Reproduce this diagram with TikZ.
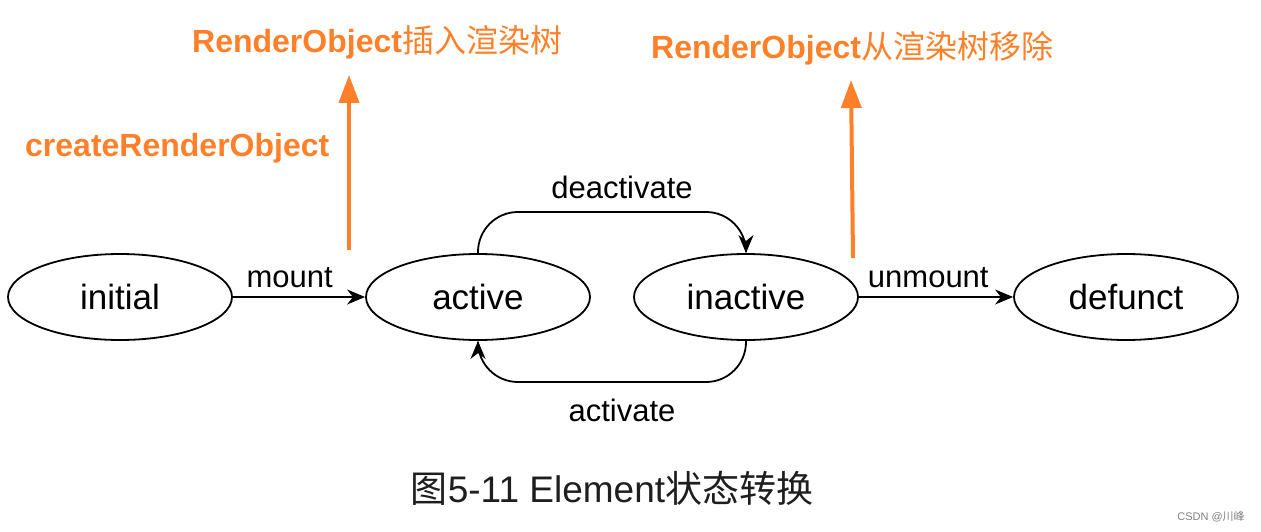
\documentclass[tikz,border=0pt]{standalone}
\usepackage{fontspec}
\setmainfont{Liberation Sans}
\newfontfamily\cjk{Noto Sans CJK SC}
\usetikzlibrary{arrows.meta,shapes.geometric}
\definecolor{orng}{RGB}{255,128,40}
\definecolor{capt}{RGB}{30,30,30}
\tikzset{
  state/.style={draw=black,line width=1.8pt,ellipse,minimum width=224pt,minimum height=86pt,inner sep=0pt,font=\fontsize{35}{40}\selectfont},
  conn/.style={draw=black,line width=1.8pt,-{Stealth[length=18pt,width=15pt]}},
  lbl/.style={font=\fontsize{31}{35}\selectfont,inner sep=0pt},
  orarrow/.style={draw=orng,line width=4pt,-{Triangle[length=28pt,width=20pt]}},
  ortext/.style={text=orng,inner sep=0pt,anchor=west,font=\fontsize{32}{36}\selectfont}
}
\begin{document}
\begin{tikzpicture}[x=1pt,y=-1pt]
\useasboundingbox (0,0) rectangle (1261,532);
\node[state] (initial) at (120,297) {initial};
\node[state] (active) at (478,297) {active};
\node[state] (inactive) at (746,297) {inactive};
\node[state] (defunct) at (1126,297) {defunct};

\draw[conn] (initial) -- node[lbl,pos=0.43,above=8pt] {mount} (active);
\draw[conn] (inactive) -- node[lbl,pos=0.45,above=8pt] {unmount} (defunct);

\draw[conn,rounded corners=40pt] (active.north) |- (622,212) node[lbl,above=12pt] {deactivate} -| (inactive.north);
\draw[conn,rounded corners=40pt] (inactive.south) |- (622,382) node[lbl,below=16pt] {activate} -| (active.south);

\coordinate (a1s) at (349,250);
\coordinate (a1e) at (349,75);
\coordinate (a2s) at (853,258);
\coordinate (a2e) at (851,80);
\draw[orarrow] (a1s) -- (a1e);
\draw[orarrow] (a2s) -- (a2e);

\node[ortext] (t1) at (192,42) {\bfseries RenderObject{\mdseries\cjk 插入渲染树}};
\node[ortext] (t2) at (25,148) {\bfseries createRenderObject};
\node[ortext] (t3) at (651,48) {\bfseries RenderObject{\mdseries\cjk 从渲染树移除}};

\node[text=capt,inner sep=0pt,font=\fontsize{37}{41}\selectfont] (cap) at (612,488) {{\cjk 图}5-11 Element{\cjk 状态转换}};
\node[text=gray,inner sep=0pt,font=\fontsize{11}{13}\selectfont] (wm) at (1211,517) {CSDN @{\cjk 川峰}};
\end{tikzpicture}
\end{document}
